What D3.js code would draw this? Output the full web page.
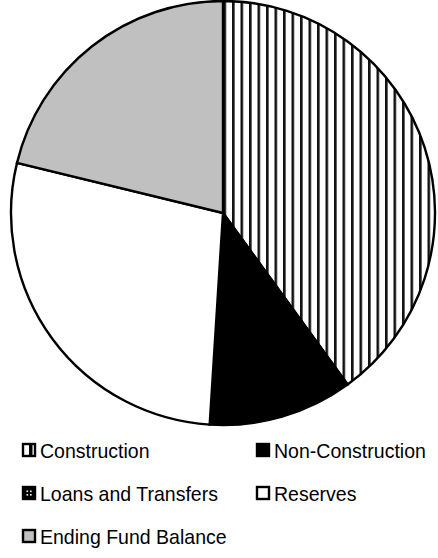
<!DOCTYPE html>
<html><head><meta charset="utf-8">
<script src="https://cdn.jsdelivr.net/npm/d3@7"></script>
<style>body{margin:0;background:#fff}svg{display:block}</style>
</head><body>
<script>
const categories = ["Construction","Non-Construction","Loans and Transfers","Reserves","Ending Fund Balance"];
const values = [40.0, 11.0, 0, 27.8, 21.2];
const fills = ["url(#stripes)","#000000","url(#dots)","#ffffff","#c0c0c0"];

const W = 438, H = 558;
const svg = d3.select("body").append("svg").attr("width", W).attr("height", H);
const defs = svg.append("defs");
const st = defs.append("pattern").attr("id","stripes").attr("patternUnits","userSpaceOnUse")
  .attr("width",8.5).attr("height",10).attr("x",0.5);
st.append("rect").attr("width",8.5).attr("height",10).attr("fill","#fff");
st.append("rect").attr("x",0).attr("width",2.6).attr("height",10).attr("fill","#111");
const dp = defs.append("pattern").attr("id","dots").attr("patternUnits","userSpaceOnUse")
  .attr("width",4).attr("height",4);
dp.append("rect").attr("width",4).attr("height",4).attr("fill","#000");
dp.append("rect").attr("x",1).attr("y",1).attr("width",2).attr("height",2).attr("fill","#fff");

const cx = 223, cy = 213, r = 212;
const pie = d3.pie().sort(null).value(d => d)(values);
const arc = d3.arc().innerRadius(0).outerRadius(r);
const g = svg.append("g").attr("transform",`translate(${cx},${cy})`);
g.selectAll("path").data(pie).join("path")
  .attr("d", arc).attr("fill",(d,i)=>fills[i])
  .attr("stroke","#000").attr("stroke-width",2.4).attr("stroke-linejoin","miter");

// legend
const colX = [22, 256], rowY = [450, 493, 536];
const lg = svg.append("g");
categories.forEach((c,i)=>{
  const x = colX[i%2], y = rowY[Math.floor(i/2)];
  const s = 14;
  const it = lg.append("g").attr("transform",`translate(${x},${y - s/2})`);
  if (i === 0) {
    it.append("rect").attr("x",1).attr("y",1).attr("width",s-2).attr("height",s-2).attr("fill","#fff").attr("stroke","#000").attr("stroke-width",2.4);
    it.append("rect").attr("x",s-7).attr("y",1).attr("width",3.5).attr("height",s-2).attr("fill","#000");
  } else if (i === 2) {
    it.append("rect").attr("x",1).attr("y",1).attr("width",s-2).attr("height",s-2).attr("fill","#000").attr("stroke","#000").attr("stroke-width",2.4);
    [[4.5,4.5],[8,4.5],[4.5,8],[8,8]].forEach(p=>it.append("rect").attr("x",p[0]).attr("y",p[1]).attr("width",1.6).attr("height",1.6).attr("fill","#fff"));
  } else {
    it.append("rect").attr("x",1).attr("y",1).attr("width",s-2).attr("height",s-2).attr("fill",fills[i]).attr("stroke","#000").attr("stroke-width",2.4);
  }
  lg.append("text").attr("transform",`translate(${x+s+4},${y}) scale(0.93,1)`).attr("dy","0.36em")
    .attr("font-family","'Liberation Sans Narrow','Arial Narrow','Liberation Sans',Arial,sans-serif")
    .attr("font-size",21).attr("fill","#000").text(c);
});
</script>
</body></html>
